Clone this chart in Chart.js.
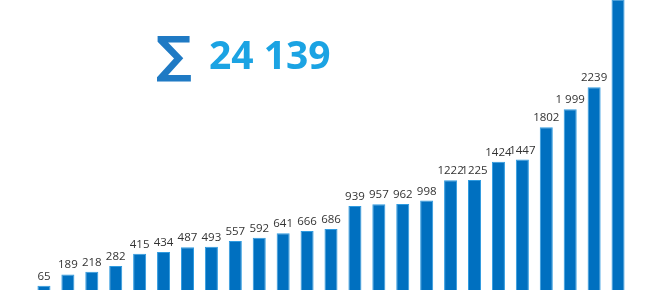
<!DOCTYPE html>
<html>
<head>
<meta charset="utf-8">
<script src="https://cdn.jsdelivr.net/npm/chart.js@4"></script>
<style>
  html, body { margin: 0; padding: 0; background: #fff; overflow: hidden; }
  #wrap { width: 650px; height: 290px; position: relative; }
</style>
</head>
<body>
<div id="wrap"><canvas id="barChart"></canvas></div>
<script>
// bar values, sorted ascending (last one runs off the top)
const values = [65, 189, 218, 282, 415, 434, 487, 493, 557, 592, 641, 666, 686,
  939, 957, 962, 998, 1222, 1225, 1424, 1447, 1802, 1999, 2239, 3200];
// labels as printed above the bars
const valueLabels = ['65', '189', '218', '282', '415', '434', '487', '493', '557', '592', '641', '666', '686',
  '939', '957', '962', '998', '1222', '1225', '1424', '1447', '1802', '1 999', '2239', '3200'];
const categories = values.map((v, i) => String(i + 1));

// thousands with a space, e.g. 24 139
function fmtSpace(n) {
  return String(n).replace(/\B(?=(\d{3})+(?!\d))/g, ' ');
}

const labelPlugin = {
  id: 'valueLabels',
  afterDatasetsDraw(chart) {
    const ctx = chart.ctx;
    const meta = chart.getDatasetMeta(0);
    ctx.save();
    ctx.font = '11.5px "Open Sans"';
    ctx.fillStyle = '#333333';
    ctx.textAlign = 'center';
    ctx.textBaseline = 'alphabetic';
    meta.data.forEach((bar, i) => {
      ctx.fillText(valueLabels[i], bar.x, bar.y - 6);
    });
    ctx.restore();
  }
};

const sumPlugin = {
  id: 'sumText',
  afterDraw(chart) {
    const ctx = chart.ctx;
    const total = values.reduce((s, v) => s + v, 0);
    ctx.save();
    ctx.textBaseline = 'alphabetic';
    ctx.textAlign = 'left';
    ctx.fillStyle = '#1f7ac4';
    ctx.font = 'bold 50px "DejaVu Sans"';
    ctx.fillText('\u2211', 156, 72);
    ctx.fillStyle = '#1ba3e3';
    ctx.font = 'bold 39px "Open Sans"';
    ctx.fillText(fmtSpace(total), 209, 69);
    ctx.restore();
  }
};

new Chart(document.getElementById('barChart'), {
  type: 'bar',
  data: {
    labels: categories,
    datasets: [{
      data: values,
      backgroundColor: '#0070c0',
      borderColor: '#2f9be0',
      borderWidth: 1,
      barPercentage: 0.545,
      categoryPercentage: 1
    }]
  },
  options: {
    responsive: true,
    maintainAspectRatio: false,
    animation: false,
    layout: { padding: { left: 32, right: 20, top: 0, bottom: 0 } },
    plugins: { legend: { display: false }, tooltip: { enabled: false } },
    scales: {
      x: { display: false },
      y: { display: false, min: 19, max: 3195 }
    }
  },
  plugins: [labelPlugin, sumPlugin]
});
</script>
</body>
</html>
